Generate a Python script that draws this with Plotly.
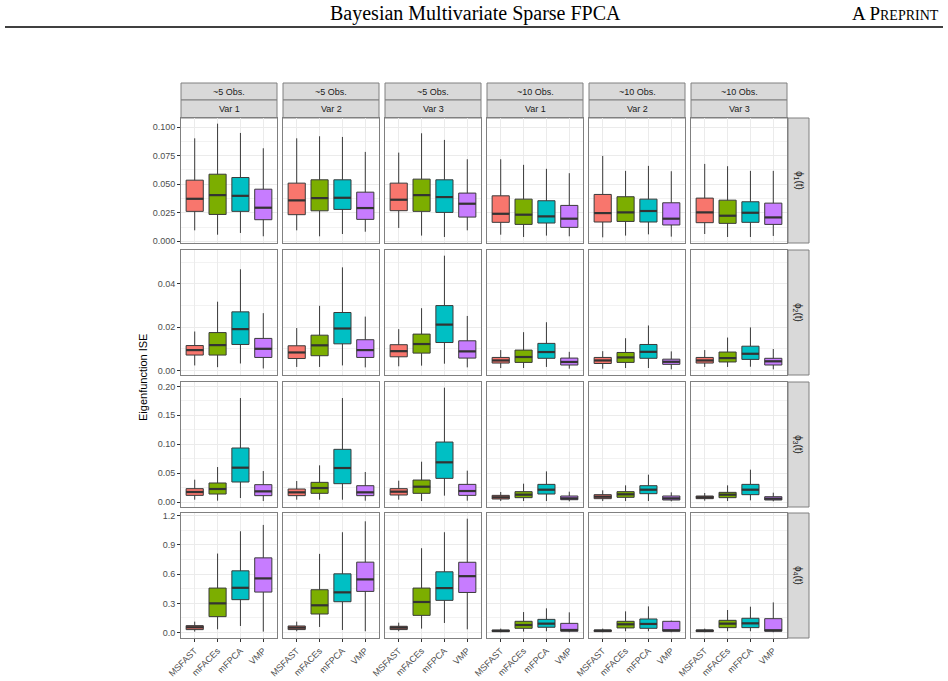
import plotly.graph_objects as go

# ---------------- data ----------------
methods = ["MSFAST", "mFACEs", "mFPCA", "VMP"]
obs_labels = ["~5 Obs.", "~5 Obs.", "~5 Obs.", "~10 Obs.", "~10 Obs.", "~10 Obs."]
var_labels = ["Var 1", "Var 2", "Var 3", "Var 1", "Var 2", "Var 3"]
row_labels = ["ϕ<sub>1</sub>(t)", "ϕ<sub>2</sub>(t)", "ϕ<sub>3</sub>(t)", "ϕ<sub>4</sub>(t)"]
colors = ["#F8766D", "#7CAE00", "#00BFC4", "#C77CFF"]

# each list: one entry per column panel, each with values for MSFAST, mFACEs, mFPCA, VMP
phi1_upper = [[0.0901, 0.1029, 0.0948, 0.0814], [0.0901, 0.0919, 0.0913, 0.0782], [0.0776, 0.0945, 0.0887, 0.0718],
              [0.0718, 0.0669, 0.0634, 0.0596], [0.0747, 0.0616, 0.0660, 0.0613], [0.0677, 0.0657, 0.0616, 0.0616]]
phi1_q3 = [[0.0535, 0.0587, 0.0558, 0.0456], [0.0509, 0.0538, 0.0538, 0.0430], [0.0509, 0.0544, 0.0538, 0.0422],
           [0.0398, 0.0369, 0.0355, 0.0314], [0.0410, 0.0390, 0.0369, 0.0337], [0.0378, 0.0360, 0.0346, 0.0334]]
phi1_med = [[0.0372, 0.0404, 0.0398, 0.0294], [0.0358, 0.0378, 0.0381, 0.0291], [0.0364, 0.0404, 0.0387, 0.0329],
            [0.0241, 0.0233, 0.0218, 0.0198], [0.0247, 0.0253, 0.0265, 0.0198], [0.0253, 0.0224, 0.0250, 0.0209]]
phi1_q1 = [[0.0262, 0.0235, 0.0262, 0.0189], [0.0233, 0.0267, 0.0279, 0.0192], [0.0268, 0.0262, 0.0253, 0.0212],
           [0.0166, 0.0148, 0.0160, 0.0122], [0.0169, 0.0174, 0.0169, 0.0143], [0.0163, 0.0157, 0.0166, 0.0148]]
phi1_lower = [[0.0096, 0.0058, 0.0073, 0.0044], [0.0096, 0.0044, 0.0064, 0.0084], [0.0117, 0.0050, 0.0038, 0.0096],
              [0.0058, 0.0038, 0.0050, 0.0044], [0.0035, 0.0050, 0.0061, 0.0041], [0.0064, 0.0038, 0.0038, 0.0047]]

phi2_upper = [[0.0180, 0.0318, 0.0468, 0.0265], [0.0196, 0.0299, 0.0477, 0.0249], [0.0191, 0.0288, 0.0531, 0.0252],
              [0.0094, 0.0177, 0.0223, 0.0086], [0.0089, 0.0149, 0.0208, 0.0088], [0.0094, 0.0152, 0.0199, 0.0099]]
phi2_q3 = [[0.0115, 0.0175, 0.0271, 0.0148], [0.0114, 0.0163, 0.0268, 0.0142], [0.0119, 0.0168, 0.0300, 0.0137],
           [0.0060, 0.0094, 0.0125, 0.0057], [0.0060, 0.0083, 0.0120, 0.0052], [0.0060, 0.0085, 0.0112, 0.0056]]
phi2_med = [[0.0094, 0.0117, 0.0191, 0.0100], [0.0083, 0.0116, 0.0194, 0.0094], [0.0089, 0.0122, 0.0212, 0.0088],
            [0.0046, 0.0062, 0.0085, 0.0039], [0.0046, 0.0060, 0.0086, 0.0040], [0.0046, 0.0057, 0.0077, 0.0042]]
phi2_q1 = [[0.0071, 0.0071, 0.0120, 0.0060], [0.0055, 0.0068, 0.0123, 0.0060], [0.0063, 0.0080, 0.0129, 0.0057],
           [0.0034, 0.0037, 0.0056, 0.0025], [0.0032, 0.0037, 0.0056, 0.0028], [0.0034, 0.0039, 0.0051, 0.0025]]
phi2_lower = [[0.0023, 0.0015, 0.0032, 0.0009], [0.0016, 0.0016, 0.0023, 0.0014], [0.0019, 0.0022, 0.0031, 0.0014],
              [0.0011, 0.0011, 0.0016, 0.0008], [0.0008, 0.0011, 0.0011, 0.0005], [0.0016, 0.0016, 0.0017, 0.0005]]

phi3_upper = [[0.0386, 0.0605, 0.1798, 0.0536], [0.0363, 0.0634, 0.1798, 0.0519], [0.0369, 0.0697, 0.1977, 0.0542],
              [0.0173, 0.0317, 0.0530, 0.0179], [0.0202, 0.0288, 0.0473, 0.0167], [0.0156, 0.0288, 0.0559, 0.0161]]
phi3_q3 = [[0.0231, 0.0329, 0.0934, 0.0300], [0.0225, 0.0340, 0.0911, 0.0282], [0.0231, 0.0380, 0.1037, 0.0305],
           [0.0115, 0.0179, 0.0305, 0.0104], [0.0127, 0.0179, 0.0282, 0.0104], [0.0104, 0.0167, 0.0305, 0.0092]]
phi3_med = [[0.0173, 0.0225, 0.0594, 0.0184], [0.0167, 0.0242, 0.0588, 0.0167], [0.0179, 0.0265, 0.0686, 0.0190],
            [0.0081, 0.0127, 0.0213, 0.0063], [0.0092, 0.0133, 0.0213, 0.0063], [0.0081, 0.0127, 0.0213, 0.0058]]
phi3_q1 = [[0.0115, 0.0138, 0.0346, 0.0110], [0.0110, 0.0150, 0.0317, 0.0110], [0.0121, 0.0150, 0.0409, 0.0115],
           [0.0052, 0.0075, 0.0138, 0.0040], [0.0058, 0.0081, 0.0144, 0.0035], [0.0058, 0.0075, 0.0127, 0.0035]]
phi3_lower = [[0.0040, 0.0023, 0.0069, 0.0017], [0.0040, 0.0040, 0.0040, 0.0023], [0.0040, 0.0017, 0.0110, 0.0023],
              [0.0017, 0.0017, 0.0017, 0.0012], [0.0017, 0.0017, 0.0017, 0.0012], [0.0023, 0.0017, 0.0029, 0.0012]]

phi4_upper = [[0.1125, 0.811, 1.040, 1.105], [0.1125, 0.808, 1.030, 1.142], [0.102, 0.866, 1.030, 1.169],
              [0.041, 0.211, 0.249, 0.208], [0.041, 0.218, 0.269, 0.123], [0.041, 0.232, 0.266, 0.310]]
phi4_q3 = [[0.0716, 0.457, 0.634, 0.767], [0.068, 0.440, 0.603, 0.723], [0.065, 0.457, 0.624, 0.722],
           [0.027, 0.116, 0.136, 0.095], [0.027, 0.116, 0.140, 0.116], [0.027, 0.126, 0.147, 0.143]]
phi4_med = [[0.0545, 0.300, 0.460, 0.556], [0.051, 0.280, 0.413, 0.546], [0.051, 0.314, 0.457, 0.579],
            [0.017, 0.078, 0.092, 0.027], [0.020, 0.085, 0.089, 0.024], [0.020, 0.092, 0.095, 0.024]]
phi4_q1 = [[0.0307, 0.164, 0.338, 0.416], [0.031, 0.191, 0.317, 0.423], [0.031, 0.177, 0.331, 0.412],
           [0.010, 0.044, 0.055, 0.014], [0.010, 0.048, 0.044, 0.014], [0.010, 0.051, 0.051, 0.014]]
phi4_lower = [[0.0102, 0.034, 0.068, 0.010], [0.014, 0.058, 0.027, 0.014], [0.014, 0.041, 0.099, 0.034],
              [0.003, 0.010, 0.014, 0.003], [0.003, 0.014, 0.014, 0.003], [0.003, 0.014, 0.014, 0.003]]

row_tickvals = [[0, 0.025, 0.05, 0.075, 0.1], [0, 0.02, 0.04], [0, 0.05, 0.1, 0.15, 0.2], [0, 0.3, 0.6, 0.9, 1.2]]
row_ticktext = [["0.000", "0.025", "0.050", "0.075", "0.100"], ["0.00", "0.02", "0.04"],
                ["0.00", "0.05", "0.10", "0.15", "0.20"], ["0.0", "0.3", "0.6", "0.9", "1.2"]]
row_minor = [0.0125, 0.01, 0.025, 0.15]

rows = [
    (phi1_upper, phi1_q3, phi1_med, phi1_q1, phi1_lower),
    (phi2_upper, phi2_q3, phi2_med, phi2_q1, phi2_lower),
    (phi3_upper, phi3_q3, phi3_med, phi3_q1, phi3_lower),
    (phi4_upper, phi4_q3, phi4_med, phi4_q1, phi4_lower),
]

# ---------------- layout geometry (pixels) ----------------
W, H = 948, 681
col_px = [(181, 277), (283, 379), (385, 481), (487, 583), (589, 685), (691, 787)]
row_px = [(118, 243), (250, 375), (382, 507), (513, 638)]
FONT = "Liberation Sans, Arial, sans-serif"
SERIF = "Liberation Serif, Times New Roman, serif"


def fx(p):
    return p / W


def fy(p):
    return 1 - p / H


fig = go.Figure()
layout = {}
box_w = 0.75

for r, (up, q3, med, q1, lo) in enumerate(rows):
    all_lo = min(min(v) for v in lo)
    all_hi = max(max(v) for v in up)
    span = all_hi - all_lo
    yr = [all_lo - 0.05 * span, all_hi + 0.05 * span]
    for c in range(6):
        k = r * 6 + c + 1
        xa = "x" if k == 1 else f"x{k}"
        ya = "y" if k == 1 else f"y{k}"
        for m in range(4):
            fig.add_trace(go.Box(
                x=[m], q1=[q1[c][m]], median=[med[c][m]], q3=[q3[c][m]],
                lowerfence=[lo[c][m]], upperfence=[up[c][m]],
                width=box_w, fillcolor=colors[m],
                line=dict(color="#3a3a3a", width=1), whiskerwidth=0,
                boxpoints=False, showlegend=False, hoverinfo="skip",
                xaxis=xa, yaxis=ya))
        mx, my = [], []
        for m in range(4):
            mx += [m - box_w / 2, m + box_w / 2, None]
            my += [med[c][m], med[c][m], None]
        fig.add_trace(go.Scatter(x=mx, y=my, mode="lines", line=dict(color="#333333", width=2.2),
                                 showlegend=False, hoverinfo="skip", xaxis=xa, yaxis=ya))

        bottom = (r == 3)
        left = (c == 0)
        xkey = "xaxis" if k == 1 else f"xaxis{k}"
        ykey = "yaxis" if k == 1 else f"yaxis{k}"
        layout[xkey] = dict(
            domain=[fx(col_px[c][0]), fx(col_px[c][1])], anchor=ya, automargin=False,
            range=[-0.6, 3.6], tickmode="array", tickvals=[0, 1, 2, 3], ticktext=methods,
            showticklabels=bottom, ticks="outside" if bottom else "", ticklen=3,
            tickcolor="#333333", tickangle=-45,
            tickfont=dict(size=9, color="#4D4D4D", family=FONT),
            showgrid=True, gridcolor="#EBEBEB", gridwidth=1, zeroline=False,
            showline=True, mirror=True, linecolor="#808080", linewidth=1, fixedrange=True)
        layout[ykey] = dict(
            domain=[fy(row_px[r][1]), fy(row_px[r][0])], anchor=xa, automargin=False,
            range=yr, tickmode="array", tickvals=row_tickvals[r], ticktext=row_ticktext[r],
            showticklabels=left, ticks="outside" if left else "", ticklen=3, tickcolor="#333333",
            tickfont=dict(size=9, color="#4D4D4D", family=FONT),
            showgrid=True, gridcolor="#EBEBEB", gridwidth=1, zeroline=False,
            minor=dict(tickmode="linear", tick0=0, dtick=row_minor[r], showgrid=True,
                       gridcolor="#F2F2F2", gridwidth=0.6, ticks=""),
            showline=True, mirror=True, linecolor="#808080", linewidth=1, fixedrange=True)

shapes = []
annotations = []
strip_fill = "#D9D9D9"
strip_line = "#808080"
# top strips
for c in range(6):
    x0, x1 = col_px[c]
    for (y0, y1, txt) in [(83, 100, obs_labels[c]), (100, 118, var_labels[c])]:
        shapes.append(dict(type="rect", xref="paper", yref="paper", x0=fx(x0), x1=fx(x1),
                           y0=fy(y1), y1=fy(y0), fillcolor=strip_fill,
                           line=dict(color=strip_line, width=1), layer="below"))
        annotations.append(dict(xref="paper", yref="paper", x=fx((x0 + x1) / 2), y=fy((y0 + y1) / 2),
                                text=txt, showarrow=False, xanchor="center", yanchor="middle",
                                font=dict(size=9, color="#1A1A1A", family=FONT)))
# right strips
for r in range(4):
    y0, y1 = row_px[r]
    shapes.append(dict(type="rect", xref="paper", yref="paper", x0=fx(788), x1=fx(809),
                       y0=fy(y1), y1=fy(y0), fillcolor=strip_fill,
                       line=dict(color=strip_line, width=1), layer="below"))
    annotations.append(dict(xref="paper", yref="paper", x=fx(798.5), y=fy((y0 + y1) / 2),
                            text=row_labels[r], showarrow=False, textangle=90,
                            xanchor="center", yanchor="middle",
                            font=dict(size=10, color="#1A1A1A", family=FONT)))

# y-axis title
annotations.append(dict(xref="paper", yref="paper", x=fx(143), y=fy(378), text="Eigenfunction ISE",
                        showarrow=False, textangle=-90, xanchor="center", yanchor="middle",
                        font=dict(size=11, color="#000000", family=FONT)))

# page header
annotations.append(dict(xref="paper", yref="paper", x=fx(475), y=fy(13),
                        text="Bayesian Multivariate Sparse FPCA", showarrow=False,
                        xanchor="center", yanchor="middle",
                        font=dict(size=20, color="#000000", family=SERIF)))
annotations.append(dict(xref="paper", yref="paper", x=fx(941), y=fy(13),
                        text="A P<span style='font-size:14px'>REPRINT</span>", showarrow=False,
                        xanchor="right", yanchor="middle",
                        font=dict(size=19, color="#000000", family=SERIF)))
shapes.append(dict(type="line", xref="paper", yref="paper", x0=fx(5), x1=fx(943), y0=fy(27), y1=fy(27),
                   line=dict(color="#000000", width=1.3)))

fig.update_layout(
    width=W, height=H, margin=dict(l=0, r=0, t=0, b=0, autoexpand=False),
    paper_bgcolor="white", plot_bgcolor="white",
    showlegend=False, shapes=shapes, annotations=annotations, boxmode="overlay",
    **layout)

fig.write_html("out.html")
